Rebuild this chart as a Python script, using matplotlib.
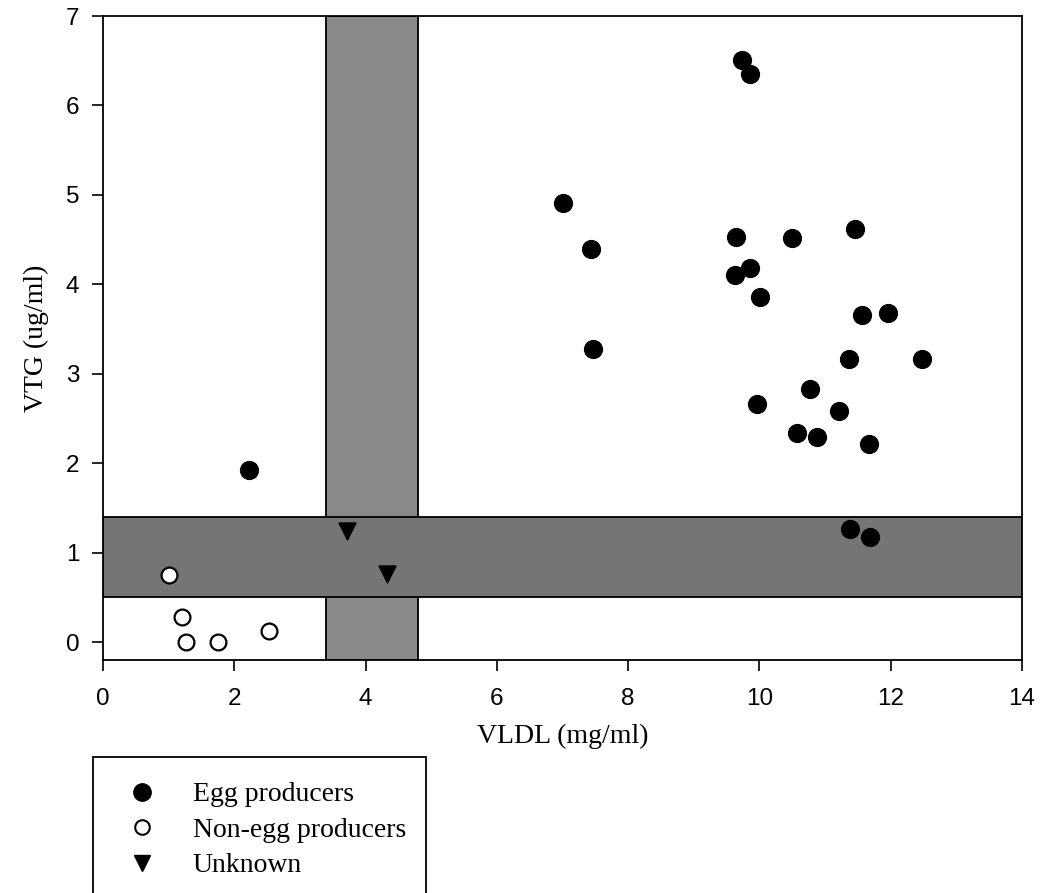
import matplotlib.pyplot as plt
from matplotlib.patches import Rectangle
from matplotlib.lines import Line2D

# data
egg_x = [2.22, 9.73, 9.85, 7.01, 7.44, 9.64, 10.49, 9.86, 9.63, 10.01, 7.47,
         11.45, 11.56, 11.96, 11.37, 12.47, 10.77, 9.96, 11.21, 10.58, 10.87, 11.67,
         11.38, 11.68]
egg_y = [1.92, 6.51, 6.35, 4.91, 4.40, 4.53, 4.52, 4.18, 4.11, 3.86, 3.28,
         4.62, 3.66, 3.68, 3.17, 3.16, 2.83, 2.66, 2.58, 2.34, 2.29, 2.21,
         1.26, 1.18]
non_x = [1.00, 1.20, 1.27, 1.75, 2.53]
non_y = [0.75, 0.28, 0.00, 0.00, 0.12]
unk_x = [3.71, 4.32]
unk_y = [1.24, 0.76]

# shaded cut-off bands
vldl_band = (3.4, 4.8)
vtg_band = (0.5, 1.4)

serif = 'Liberation Serif'
sans = 'Liberation Sans'

fig = plt.figure(figsize=(10.41, 8.93), dpi=100)
ax = fig.add_axes([0.099, 0.261, 0.8827, 0.721])

ax.set_xlim(0, 14)
ax.set_ylim(-0.2, 7)

ax.add_patch(Rectangle((vldl_band[0], -0.2), vldl_band[1] - vldl_band[0], 7.2,
                       facecolor='#8a8a8a', edgecolor='black', lw=1.3, zorder=1))
ax.add_patch(Rectangle((0, vtg_band[0]), 14, vtg_band[1] - vtg_band[0],
                       facecolor='#757575', edgecolor='black', lw=1.3, zorder=1))

ax.scatter(egg_x, egg_y, s=165, c='black', marker='o', zorder=3)
ax.scatter(non_x, non_y, s=130, facecolors='white', edgecolors='black',
           linewidths=1.6, marker='o', zorder=3)
ax.scatter(unk_x, unk_y, s=150, c='black', marker='v', zorder=3)

ax.set_xticks(range(0, 15, 2))
ax.set_yticks(range(0, 8))
ax.tick_params(direction='out', length=8, width=1.2, labelsize=17.5)
ax.tick_params(axis='x', pad=12)
ax.tick_params(axis='y', pad=9)
for lab in ax.get_xticklabels() + ax.get_yticklabels():
    lab.set_fontfamily(sans)
for sp in ax.spines.values():
    sp.set_linewidth(1.3)

ax.set_xlabel('VLDL (mg/ml)', fontsize=20, fontfamily=serif, labelpad=10)
ax.set_ylabel('VTG (ug/ml)', fontsize=20, fontfamily=serif, labelpad=12)

# legend box (runs off the bottom of the page)
fig.patches.append(Rectangle((93 / 1041, -0.05), 333 / 1041, 0.05 + 136 / 893,
                             transform=fig.transFigure, facecolor='none',
                             edgecolor='black', lw=1.3))
handles = [
    Line2D([], [], ls='none', marker='o', ms=12.5, color='black', label='Egg producers'),
    Line2D([], [], ls='none', marker='o', ms=10.5, mfc='white', mec='black', mew=1.5,
           label='Non-egg producers'),
    Line2D([], [], ls='none', marker='v', ms=11.5, color='black', label='Unknown'),
]
fig.legend(handles=handles, loc='upper left', bbox_to_anchor=(114 / 1041, 1 - 768 / 893),
           frameon=False, prop={'family': serif, 'size': 20}, handlelength=1.0,
           handletextpad=1.34, labelspacing=0.36, borderpad=0)

fig.savefig('out.png', dpi=100)
